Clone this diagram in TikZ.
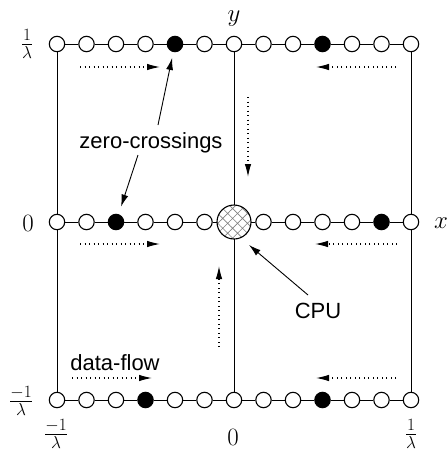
\documentclass[tikz,border=0pt]{standalone}
\usepackage{fontspec}
\newfontfamily\sansf{Liberation Sans}
\usetikzlibrary{arrows.meta,patterns.meta}
\begin{document}
\begin{tikzpicture}[x=1pt,y=-1pt,
  dot/.style={circle,draw,line width=1.1pt,fill=white,minimum size=15.4pt,inner sep=0pt},
  zc/.style={dot,fill=black},
  cpubox/.style={circle,draw,line width=1.1pt,minimum size=34pt,inner sep=0pt,
    pattern={Hatch[angle=45,distance=7pt,line width=0.6pt]},pattern color=gray},
  wire/.style={line width=0.8pt},
  flow/.style={line width=1.1pt,dash pattern=on 1pt off 3.5pt,-{Latex[length=13pt,width=6.5pt]}},
  pointer/.style={line width=0.9pt,-{Latex[length=12pt,width=7pt]}},
  mathlbl/.style={font=\fontsize{23}{27}\selectfont,inner sep=0pt},
  txt/.style={font=\sansf\fontsize{22}{26}\selectfont,anchor=base,inner sep=0pt}]
\useasboundingbox (0,0) rectangle (448,451);
% top row
\foreach \i in {1,...,13}{
  \pgfmathsetmacro\xx{57+29.5*(\i-1)}
  \ifnum\i=5 \def\st{zc}\else\ifnum\i=10 \def\st{zc}\else\def\st{dot}\fi\fi
  \node[\st] (t\i) at (\xx,44) {};
}
% middle row
\foreach \i in {1,...,13}{
  \pgfmathsetmacro\xx{57+29.5*(\i-1)}
  \ifnum\i=7\else
  \ifnum\i=3 \def\st{zc}\else\ifnum\i=12 \def\st{zc}\else\def\st{dot}\fi\fi
  \node[\st] (m\i) at (\xx,222) {};
  \fi
}
\node[cpubox] (cpu) at (234,222) {};
% bottom row
\foreach \i in {1,...,13}{
  \pgfmathsetmacro\xx{57+29.5*(\i-1)}
  \ifnum\i=4 \def\st{zc}\else\ifnum\i=10 \def\st{zc}\else\def\st{dot}\fi\fi
  \node[\st] (b\i) at (\xx,400) {};
}
% horizontal wires
\foreach \i [evaluate=\i as \j using int(\i+1)] in {1,...,12}{
  \draw[wire] (t\i) -- (t\j);
  \draw[wire] (b\i) -- (b\j);
}
\foreach \a/\b in {m1/m2,m2/m3,m3/m4,m4/m5,m5/m6,m6/cpu,cpu/m8,m8/m9,m9/m10,m10/m11,m11/m12,m12/m13}
  \draw[wire] (\a) -- (\b);
% vertical wires
\draw[wire] (t1) -- (m1);
\draw[wire] (m1) -- (b1);
\draw[wire] (t7) -- (cpu);
\draw[wire] (cpu) -- (b7);
\draw[wire] (t13) -- (m13);
\draw[wire] (m13) -- (b13);
% data-flow arrows
\coordinate (f1a) at (80,67);   \coordinate (f1b) at (160,67);
\coordinate (f2a) at (396,67);  \coordinate (f2b) at (316,67);
\coordinate (f3a) at (80,244);  \coordinate (f3b) at (160,244);
\coordinate (f4a) at (397,244); \coordinate (f4b) at (315,244);
\coordinate (f5a) at (72,378);  \coordinate (f5b) at (152,378);
\coordinate (f6a) at (396,378); \coordinate (f6b) at (316,378);
\coordinate (f7a) at (248,97);  \coordinate (f7b) at (248,177);
\coordinate (f8a) at (219,347); \coordinate (f8b) at (219,266);
\foreach \k in {1,...,8} \draw[flow] (f\k a) -- (f\k b);
% labels
\node[mathlbl] (ly) at (234,19) {$y$};
\node[mathlbl] (lx) at (441,223) {$x$};
\node[mathlbl] (l0l) at (28,223) {$0$};
\node[mathlbl] (ltl) at (27,44) {$\frac{1}{\lambda}$};
\node[mathlbl] (lbl) at (21,401) {$\frac{-1}{\lambda}$};
\node[mathlbl] (lb1) at (56,434) {$\frac{-1}{\lambda}$};
\node[mathlbl] (lb2) at (233,437) {$0$};
\node[mathlbl] (lb3) at (411,434) {$\frac{1}{\lambda}$};
\node[txt] (zclbl) at (151,148) {zero-crossings};
\node[txt] (cpulbl) at (318,318) {CPU};
\node[txt] (dflbl) at (115,370) {data-flow};
% pointers
\coordinate (zs1) at (158,125);
\coordinate (zs2) at (138,155);
\coordinate (cs) at (308,295);
\coordinate (ct) at (249,245);
\draw[pointer,shorten >=6pt] (zs1) -- (t5);
\draw[pointer,shorten >=8pt] (zs2) -- (m3);
\draw[pointer] (cs) -- (ct);
\end{tikzpicture}
\end{document}
